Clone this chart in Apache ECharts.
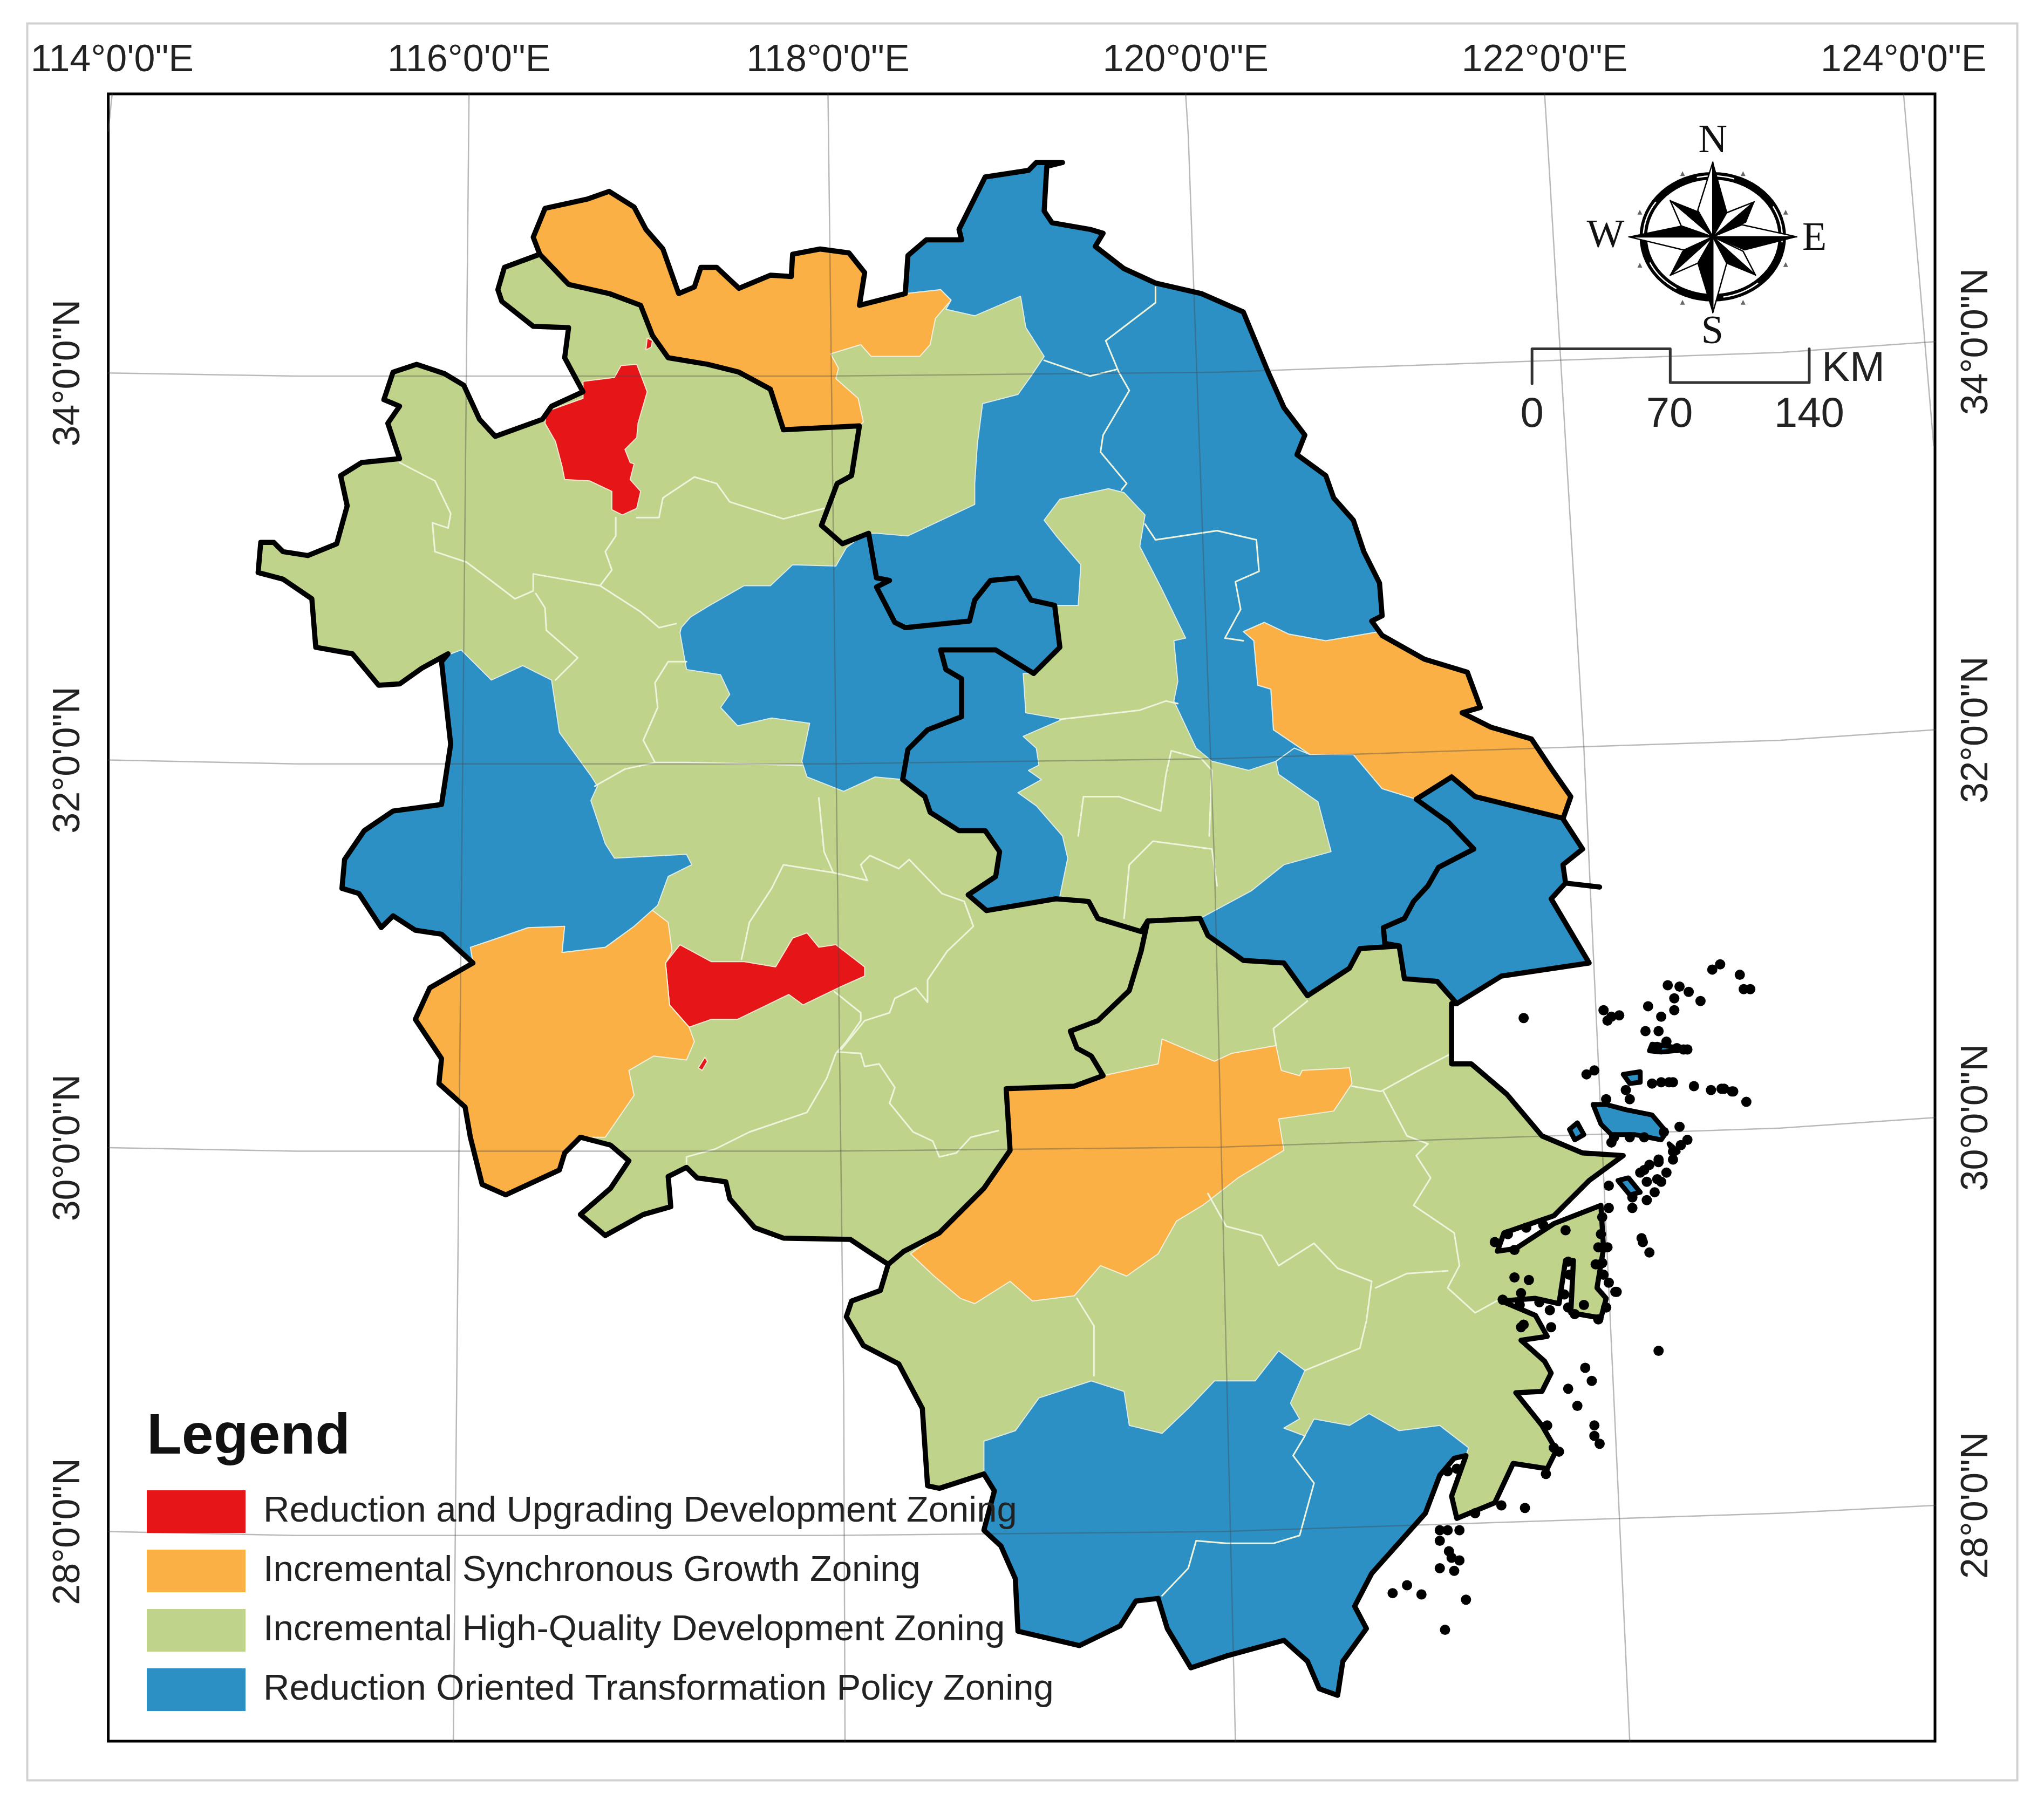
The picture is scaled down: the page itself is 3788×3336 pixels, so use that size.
<!DOCTYPE html>
<html>
<head>
<meta charset="utf-8">
<title>Zoning map</title>
<script src="https://cdn.jsdelivr.net/npm/echarts@6/dist/echarts.min.js"></script>
<style>
html,body{margin:0;padding:0;background:#fff;}
#main{width:3788px;height:3336px;}
</style>
</head>
<body>
<div id="main"></div>
<script>
var lonLabels=['114°0\'0"E','116°0\'0"E','118°0\'0"E','120°0\'0"E','122°0\'0"E','124°0\'0"E'];
var lonTicks=[85.6,358,632,905,1179,1453];
var latLabels=['34°0\'0"N','32°0\'0"N','30°0\'0"N','28°0\'0"N'];
var latTicksLeft=[284.6,580,876,1169];
var latTicksRight=[260.7,557,853,1149];

var zoneNames=['Reduction and Upgrading Development Zoning','Incremental Synchronous Growth Zoning','Incremental High-Quality Development Zoning','Reduction Oriented Transformation Policy Zoning'];

var outerRing=[[811,124],[799,127],[797,161],[803,170],[832,175],[842,178],[836,188],[858,205],[882,216],[917,224],[949,238],[968,284],[980,311],[996,332],[990,347],[1012,363],[1018,380],[1033,397],[1041,421],[1053,445],[1055,470],[1047,474],[1055,485],[1087,503],[1120,513],[1130,540],[1116,544],[1138,555],[1169,564],[1185,588],[1199,608],[1193,625],[1208,648],[1193,660],[1195,674],[1184,686],[1213,735],[1146,745],[1112,766],[1108,766],[1108,812],[1123,812],[1150,835],[1177,867],[1208,880],[1239,882],[1213,901],[1186,928],[1148,941],[1143,955],[1157,953],[1186,934],[1222,920],[1224,953],[1219,983],[1226,991],[1222,1006],[1199,1002],[1201,962],[1195,962],[1190,995],[1172,991],[1146,993],[1172,1004],[1181,1020],[1161,1023],[1179,1039],[1184,1048],[1177,1062],[1157,1063],[1177,1088],[1188,1107],[1181,1121],[1155,1117],[1141,1147],[1112,1159],[1108,1142],[1119,1111],[1110,1113],[1099,1126],[1088,1155],[1047,1201],[1034,1226],[1043,1243],[1025,1268],[1021,1294],[1007,1289],[998,1268],[980,1252],[936,1264],[909,1273],[891,1243],[884,1220],[867,1222],[855,1241],[824,1256],[777,1245],[775,1205],[764,1180],[751,1168],[759,1138],[751,1125],[717,1136],[708,1134],[704,1075],[686,1041],[659,1027],[646,1005],[650,993],[672,985],[678,965],[664,956],[649,946],[598,945],[576,937],[557,915],[554,902],[532,899],[524,891],[510,898],[512,921],[491,927],[462,943],[443,927],[466,907],[480,886],[466,874],[443,868],[431,880],[427,893],[386,912],[368,904],[359,868],[355,845],[335,827],[337,808],[317,778],[328,754],[361,735],[337,713],[317,710],[300,699],[291,708],[274,682],[261,678],[263,656],[278,634],[300,619],[337,614],[344,568],[337,505],[342,499],[322,510],[305,522],[289,523],[269,499],[241,494],[238,457],[216,442],[197,437],[199,414],[209,414],[216,421],[235,424],[257,415],[265,386],[260,363],[276,353],[305,350],[296,323],[305,310],[293,305],[300,284],[318,278],[339,285],[354,294],[366,320],[378,333],[414,320],[421,310],[445,299],[431,273],[434,250],[407,249],[383,230],[380,221],[385,204],[412,194],[407,181],[416,159],[448,152],[465,146],[484,158],[493,175],[506,190],[518,224],[530,219],[535,204],[547,204],[564,220],[588,210],[604,211],[605,194],[626,190],[648,193],[660,208],[656,233],[691,224],[693,195],[707,183],[734,183],[732,175],[752,135],[785,130],[791,124]];

var redRings=[
[[445,291],[469,288],[474,279],[486,278],[491,291],[494,299],[487,323],[486,334],[477,343],[481,353],[484,354],[481,366],[489,375],[486,388],[475,393],[467,389],[467,375],[450,367],[431,366],[429,356],[424,337],[416,323],[417,314],[445,304]],
[[519,721],[543,734],[568,734],[592,738],[605,716],[616,712],[625,723],[638,721],[660,738],[660,745],[642,753],[613,767],[602,759],[563,778],[543,778],[526,784],[511,767],[508,735]],
[[481,783],[487,784],[486,787],[482,786]],
[[538,807],[540,810],[536,817],[533,815]],
[[494,258],[498,260],[497,265],[493,267]]
];

var orangeRings=[
[[412,194],[407,181],[416,159],[448,152],[465,146],[484,158],[493,175],[506,190],[518,224],[530,219],[535,204],[547,204],[564,220],[588,210],[604,211],[605,194],[626,190],[648,193],[660,208],[656,233],[691,224],[718,221],[726,229],[714,243],[710,263],[702,272],[665,272],[657,263],[634,270],[640,281],[638,289],[655,304],[659,322],[656,325],[598,328],[588,297],[564,284],[540,278],[510,273],[498,256],[489,233],[465,224],[434,217]],
[[359,723],[374,718],[403,708],[431,707],[429,727],[462,723],[484,707],[497,694],[510,704],[513,726],[508,735],[511,767],[526,784],[530,795],[524,809],[499,806],[480,817],[484,836],[462,868],[443,868],[431,880],[427,893],[386,912],[368,904],[359,868],[355,845],[335,827],[337,808],[317,778],[328,754],[361,735]],
[[695,957],[717,941],[751,907],[771,878],[768,831],[820,829],[842,821],[884,812],[887,793],[927,810],[940,804],[974,798],[978,817],[992,821],[994,817],[1030,815],[1032,827],[1018,848],[976,854],[980,878],[945,899],[918,920],[898,932],[884,957],[860,974],[840,966],[820,989],[788,993],[771,978],[744,995],[733,991],[713,974]],
[[949,482],[965,475],[984,484],[1012,489],[1053,482],[1055,485],[1087,503],[1120,513],[1130,540],[1116,544],[1138,555],[1169,564],[1185,588],[1199,608],[1193,625],[1126,608],[1108,593],[1081,610],[1055,602],[1033,576],[1000,576],[972,557],[970,526],[960,523],[957,489]]
];

var blueRings=[
[[691,224],[693,195],[707,183],[734,183],[732,175],[752,135],[785,130],[791,124],[811,124],[799,127],[797,161],[803,170],[832,175],[842,178],[836,188],[858,205],[882,216],[917,224],[949,238],[968,284],[980,311],[996,332],[990,347],[1012,363],[1018,380],[1033,397],[1041,421],[1053,445],[1055,470],[1047,474],[1053,482],[1012,489],[984,484],[965,475],[949,482],[957,489],[960,523],[970,526],[972,557],[1000,576],[988,571],[974,581],[953,588],[925,581],[913,571],[896,535],[899,520],[896,489],[905,487],[886,448],[870,417],[874,393],[858,376],[846,373],[809,381],[797,397],[807,410],[825,431],[823,462],[805,462],[787,458],[777,441],[756,443],[744,458],[740,474],[691,479],[683,475],[669,448],[679,443],[669,441],[663,407],[669,407],[693,409],[744,385],[744,369],[746,339],[750,308],[777,301],[787,287],[797,272],[783,250],[779,226],[744,241],[722,236],[726,229],[718,221]],
[[974,581],[988,571],[1000,576],[1033,576],[1055,602],[1081,610],[1108,593],[1126,608],[1191,624],[1193,625],[1208,648],[1193,660],[1195,674],[1184,686],[1213,735],[1146,745],[1112,766],[1097,749],[1072,747],[1068,722],[1038,724],[1030,739],[998,760],[980,735],[949,733],[922,714],[916,701],[955,680],[980,660],[1016,650],[1006,612],[976,591]],
[[662,406],[669,441],[679,443],[669,448],[683,475],[691,479],[740,474],[744,458],[756,443],[777,441],[787,458],[805,462],[809,494],[799,504],[789,514],[760,496],[718,496],[722,511],[734,518],[734,547],[708,557],[693,572],[689,595],[668,593],[644,604],[616,593],[612,581],[618,552],[589,548],[563,554],[550,540],[557,530],[550,515],[524,511],[519,483],[520,479],[527,471],[540,463],[568,447],[588,447],[605,431],[638,432],[646,418]],
[[718,496],[760,496],[789,514],[781,514],[783,544],[811,549],[781,562],[791,571],[793,584],[785,588],[795,595],[777,605],[791,615],[811,638],[815,655],[809,684],[806,686],[753,695],[739,683],[760,669],[763,650],[752,634],[732,634],[710,620],[706,608],[689,595],[693,572],[708,557],[734,547],[734,518],[722,511]],
[[337,505],[344,499],[352,496],[375,519],[399,508],[421,519],[427,559],[451,592],[456,600],[451,611],[462,644],[469,655],[524,652],[528,660],[510,669],[502,691],[484,707],[462,723],[429,727],[431,707],[403,708],[374,718],[359,723],[361,735],[337,713],[317,710],[300,699],[291,708],[274,682],[261,678],[263,656],[278,634],[300,619],[337,614],[344,568]],
[[751,1125],[751,1100],[775,1092],[793,1067],[833,1054],[858,1062],[862,1088],[887,1094],[909,1073],[927,1054],[958,1054],[976,1031],[996,1046],[985,1071],[992,1083],[980,1090],[996,1096],[1003,1083],[1030,1088],[1045,1079],[1068,1092],[1099,1088],[1121,1105],[1119,1111],[1110,1113],[1099,1126],[1088,1155],[1047,1201],[1034,1226],[1043,1243],[1025,1268],[1021,1294],[1007,1289],[998,1268],[980,1252],[936,1264],[909,1273],[891,1243],[884,1220],[867,1222],[855,1241],[824,1256],[777,1245],[775,1205],[764,1180],[751,1168],[759,1138]]
];

var islandRings=[
[[1216,843],[1226,843],[1241,847],[1261,851],[1272,864],[1268,870],[1248,866],[1230,866],[1222,858]],
[[1239,820],[1252,818],[1252,826],[1244,827]],
[[1204,857],[1209,866],[1202,870],[1198,862]],
[[1235,901],[1243,899],[1252,910],[1244,912]],
[[1261,797],[1270,798],[1288,801],[1268,803],[1259,802]],
[[1274,873],[1281,879],[1278,881]]
];

var islandDots=[[1313,736],[1307,740],[1328,744],[1331,755],[1336,755],[1273,752],[1282,753],[1289,757],[1278,762],[1298,764],[1258,768],[1278,771],[1268,776],[1256,787],[1266,787],[1163,777],[1224,771],[1230,776],[1236,775],[1227,779],[1288,801],[1280,800],[1211,820],[1217,817],[1293,829],[1306,832],[1316,831],[1323,833],[1333,841],[1261,827],[1274,826],[1241,832],[1226,839],[1282,860],[1288,870],[1277,879],[1266,885],[1272,895],[1268,902],[1255,893],[1263,910],[1257,916],[1246,922],[1228,922],[1254,948],[1259,956],[1253,945],[1233,986],[1266,1031],[1210,1044],[1215,1054],[1197,1060],[1204,1073],[1217,1088],[1217,1096],[1221,1102],[1164,1151],[1146,1149],[1099,1168],[1106,1184],[1114,1191],[1099,1197],[1110,1199],[1063,1216],[1074,1210],[1085,1217],[1119,1221],[1103,1244],[1190,1108],[1180,1125],
[1223,929],[1222,942],[1220,952],[1227,952],[1218,965],[1223,964],[1224,973],[1228,979],[1234,986],[1197,963],[1198,973],[1194,988],[1156,975],[1167,977],[1161,987],[1147,992],[1160,996],[1175,994],[1183,1000],[1163,1011],[1161,1013],[1184,1013],[1197,998],[1202,1003],[1209,996],[1220,1007],[1226,998],[1141,948],[1151,942],[1156,954],[1165,937],[1178,935],[1195,939],
[1232,868],[1244,868],[1255,868],[1270,864],[1230,872],[1252,895],[1259,889],[1266,887],[1277,885],[1283,874],[1257,902],[1265,900],[1228,905],[1246,914],[1244,839],[1268,826],[1277,826],[1314,831],[1322,833],[1265,799],[1272,795],[1285,801],
[1181,1088],[1186,1105],[1126,1155],[1105,1168],[1099,1176],[1108,1189],[1114,1168],[1112,1121],[1105,1123]];

// thick province lines inside the outline
var provinceLines=[
[[412,194],[434,217],[465,224],[489,233],[498,256],[510,273],[540,278],[564,284],[588,297],[598,328],[656,325],[650,363],[639,369],[627,401],[643,415],[663,407],[669,441],[679,443],[669,448],[683,475],[691,479],[740,474],[744,458],[756,443],[777,441],[787,458],[805,462],[809,494],[799,504],[789,514],[760,496],[718,496],[722,511],[734,518],[734,547],[708,557],[693,572],[689,595],[706,608],[710,620],[732,634],[752,634],[763,650],[760,669],[739,683],[753,695],[806,686],[831,688],[838,701],[871,711],[876,703],[916,701],[922,714],[949,733],[980,735],[998,760],[1030,739],[1038,724],[1068,722],[1072,747],[1097,749],[1112,766]],
[[876,703],[871,726],[862,756],[838,779],[817,787],[822,800],[833,806],[842,821],[820,829],[768,831],[771,878],[751,907],[717,941],[690,955],[678,965]],
[[1191,624],[1126,608],[1108,593],[1081,610],[1106,628],[1125,648],[1098,662],[1090,676],[1079,688],[1072,701],[1056,708],[1057,720],[1068,722]],
[[1195,674],[1221,677]]
];

// thin city lines
var cityLines=[
[[996,1096],[987,1111],[1003,1132],[992,1172],[972,1178],[936,1178],[913,1176],[907,1197],[887,1218]],
[[1032,829],[1054,833],[1083,817],[1108,804]],
[[1056,833],[1074,867],[1090,873],[1081,882],[1092,899],[1079,920],[1110,941],[1114,966],[1105,983],[1126,1002],[1146,991]],
[[998,764],[972,785],[974,798]],
[[922,911],[936,936],[963,943],[976,966],[1003,949],[1021,968],[1047,978],[1043,1008],[1038,1029],[996,1046]],
[[1050,983],[1074,972],[1105,970]],
[[822,991],[835,1012],[835,1050]],
[[625,609],[629,650],[636,666],[662,672],[657,660],[664,653],[686,663],[694,656],[719,682],[736,688],[743,707],[723,726],[708,748],[708,765],[699,754],[683,762],[679,773],[660,779],[642,801]],
[[636,666],[598,660],[589,678],[572,704],[568,723],[566,732]],
[[637,757],[657,773],[657,779],[646,795],[638,804],[631,823],[616,849],[572,864],[546,877],[524,883],[524,890]],
[[640,803],[657,804],[660,814],[671,812],[683,830],[679,842],[697,864],[712,871],[717,883],[730,880],[741,868],[762,863]],
[[500,582],[491,565],[502,540],[500,521],[510,505],[524,505]],
[[454,600],[477,587],[500,582],[524,582],[612,584]],
[[305,353],[332,367],[344,392],[342,403],[330,399],[332,421],[356,429],[376,444],[393,457],[407,451],[407,438],[458,447],[489,467],[503,479],[516,476]],
[[409,453],[416,464],[417,481],[441,502],[424,519]],
[[470,395],[470,409],[462,421],[467,435],[458,447]],
[[486,395],[503,395],[506,380],[530,364],[547,369],[557,383],[598,396],[629,388]],
[[882,219],[882,231],[844,260],[854,284],[862,298],[842,332],[840,345],[860,369],[856,374]],
[[797,275],[832,287],[852,282]],
[[874,400],[882,412],[929,405],[959,412],[961,436],[943,444],[947,465],[935,487],[949,489]],
[[809,549],[870,542],[890,535],[899,537]],
[[823,638],[827,608],[854,608],[886,619],[890,591],[894,573],[917,579],[925,588],[923,638]],
[[858,701],[862,660],[880,642],[925,648],[929,676]]
];

// graticule read along the frame and across the map
var meridians=[
[[85.6,71.6],[82.6,100]],
[[358,71.6],[346,1329]],
[[632,71.6],[644,1062],[645,1329]],
[[905,71.6],[907,103],[927,659],[943,1329]],
[[1179,71.6],[1181,103],[1209,571],[1213,659],[1244,1329]],
[[1453,71.6],[1476,340]]
];
var parallels=[
[[82.6,284.6],[226,287],[631,287],[931,284],[1359,269],[1477,260.7]],
[[82.6,580],[226,583],[631,583],[931,579],[1359,565],[1477,557]],
[[82.6,876],[226,878.6],[631,878.6],[931,875.5],[1359,861],[1477,853]],
[[82.6,1169],[226,1172],[631,1172],[931,1169],[1359,1155],[1477,1149]]
];

// compass
var compassCenter=[1307.4,180.7];
var compassTips=[[1339,154],[1340,210],[1274.9,210],[1274.9,153],[1307.4,123.7],[1371.5,180.7],[1307.4,238.6],[1243.3,180.7]];
var compassCw=[[1332.6,169.6],[1318,200.9],[1284.3,191.7],[1295.9,161.4],[1318,161.4],[1331.6,190.8],[1295.9,200.9],[1283.3,172.4]];
var compassCcw=[[1318,162.3],[1330.5,191.7],[1295.9,200.9],[1283.3,172.4],[1295.9,160.4],[1329.5,171.5],[1318,200.9],[1285.4,190.8]];
var compassMarks=[[1284.3,132.5],[1330.5,132.5],[1251.7,161.9],[1363,161.9],[1251.7,202.4],[1363,201.8],[1284.3,230.7],[1330.5,230.7]];
var compassLetters=['N','E','S','W'];
var compassLetterPos=[[1307.4,108],[1385,182.5],[1307,254],[1225.5,180.7]];

// scale bar
var scaleLine=[[1169.4,292.8],[1169.4,266.2],[1274.9,266.2],[1274.9,291.9],[1381,291.9],[1381,266.2]];
var scaleLabels=['0','70','140','KM'];
var scaleLabelPos=[[1169.4,316.8],[1274.4,316.8],[1381,316.8],[1414.6,281.8]];

var colors=['#E61618','#FAB045','#BFD38A','#2C90C5'];
var sansFont='"Liberation Sans", Arial, sans-serif';
var serifFont='"Liberation Serif", serif';

function polySeries(name,rings,color,z,stroke,strokeWidth){
	return {
		name:name,
		type:'custom',
		coordinateSystem:'cartesian2d',
		z:z,
		silent:true,
		itemStyle:{color:color},
		data:rings.map(function(r){return r[0];}),
		renderItem:function(params,api){
			var pts=rings[params.dataIndex].map(function(p){return api.coord(p);});
			return {type:'polygon',shape:{points:pts},style:{fill:color,stroke:stroke,lineWidth:strokeWidth,lineJoin:'round'}};
		}
	};
}

function lineSeries(lines,color,width,z,dash){
	return {
		type:'custom',
		coordinateSystem:'cartesian2d',
		z:z,
		silent:true,
		data:lines.map(function(r){return r[0];}),
		renderItem:function(params,api){
			var pts=lines[params.dataIndex].map(function(p){return api.coord(p);});
			return {type:'polyline',shape:{points:pts},style:{fill:null,stroke:color,lineWidth:width,lineJoin:'round',lineCap:'round',lineDash:dash||null}};
		}
	};
}

function textSeries(labels,pos,font,size,color,z){
	return {
		type:'custom',
		coordinateSystem:'cartesian2d',
		z:z,
		silent:true,
		data:pos,
		renderItem:function(params,api){
			var c=api.coord(pos[params.dataIndex]);
			return {type:'text',x:c[0],y:c[1],style:{text:labels[params.dataIndex],fontFamily:font,fontSize:size,fill:color,align:'center',verticalAlign:'middle'}};
		}
	};
}

var series=[
	polySeries(zoneNames[2],[outerRing],colors[2],2,'#e8efd4',2),
	polySeries(zoneNames[0],redRings,colors[0],3,'#f4e6d0',2),
	polySeries(zoneNames[1],orangeRings,colors[1],3,'#f5f0dc',2),
	polySeries(zoneNames[3],blueRings,colors[3],3,'#dcebe8',2),
	lineSeries(cityLines,'#eef4dc',3,4),
	lineSeries(meridians,'rgba(70,70,70,0.38)',2.5,5),
	lineSeries(parallels,'rgba(70,70,70,0.38)',2.5,5),
	lineSeries(provinceLines,'#000',9.5,6),
	lineSeries([outerRing.concat([outerRing[0]])],'#000',9.5,6),
	polySeries('islands',islandRings,colors[3],7,'#000',9),
	{
		type:'scatter',
		z:7,
		silent:true,
		symbol:'circle',
		symbolSize:19,
		itemStyle:{color:'#000',opacity:1},
		data:islandDots
	},
	lineSeries([scaleLine],'#333',5,8),
	textSeries(scaleLabels,scaleLabelPos,sansFont,78,'#222',9),
	textSeries(compassLetters,compassLetterPos,serifFont,74,'#111',9),
	{
		type:'scatter',
		z:8,
		silent:true,
		symbol:'triangle',
		symbolSize:9,
		itemStyle:{color:'#666',opacity:1},
		data:compassMarks
	},
	{
		// compass ring and star
		type:'custom',
		coordinateSystem:'cartesian2d',
		z:8,
		silent:true,
		data:[compassCenter],
		renderItem:function(params,api){
			var c=api.coord(compassCenter);
			var sx=api.size([1,0])[0], sy=api.size([0,1])[1];
			var kids=[
				{type:'ellipse',shape:{cx:c[0],cy:c[1],rx:53*sx,ry:46.5*sy},style:{fill:'#fff',stroke:'#000',lineWidth:14}},
				{type:'ellipse',shape:{cx:c[0],cy:c[1],rx:53*sx,ry:46.5*sy},style:{fill:null,stroke:'#fff',lineWidth:2.5,lineDash:[70,90]}}
			];
			for(var i=0;i<compassTips.length;i++){
				var t=api.coord(compassTips[i]);
				kids.push({type:'polygon',shape:{points:[c,t,api.coord(compassCcw[i])]},style:{fill:'#fff',stroke:'#000',lineWidth:2.5,lineJoin:'round'}});
				kids.push({type:'polygon',shape:{points:[c,t,api.coord(compassCw[i])]},style:{fill:'#000',stroke:'#000',lineWidth:1.5,lineJoin:'round'}});
			}
			return {type:'group',children:kids};
		}
	}
];

var chart=echarts.init(document.getElementById('main'));
chart.setOption({
	animation:false,
	backgroundColor:'#fff',
	grid:{left:200.6,right:202,top:174,bottom:109,show:true,borderColor:'#000',borderWidth:5,backgroundColor:'transparent',containLabel:false},
	graphic:[{type:'rect',left:48,top:41,shape:{width:3688,height:3256},style:{fill:null,stroke:'#d2d2d2',lineWidth:4},silent:true}],
	title:{text:'Legend',left:272,top:2612,padding:0,z:20,textStyle:{fontFamily:sansFont,fontWeight:'bold',fontSize:106,color:'#111'}},
	legend:{
		left:272,top:2762,orient:'vertical',padding:0,z:20,
		itemWidth:183,itemHeight:79,itemGap:31,icon:'rect',selectedMode:false,
		data:[zoneNames[0],zoneNames[1],zoneNames[2],zoneNames[3]],
		itemStyle:{borderWidth:0},
		textStyle:{fontFamily:sansFont,fontSize:67,color:'#222',padding:[0,0,0,28]}
	},
	tooltip:{show:false},
	xAxis:{
		type:'value',position:'top',min:82.6,max:1477,
		axisLine:{show:false},axisTick:{show:false},splitLine:{show:false},
		axisLabel:{customValues:lonTicks,margin:26,fontFamily:sansFont,fontSize:70,color:'#222',hideOverlap:false,
			formatter:function(v){return lonLabels[lonTicks.indexOf(v)];}}
	},
	yAxis:[{
		type:'value',position:'left',inverse:true,min:71.6,max:1329,
		axisLine:{show:false},axisTick:{show:false},splitLine:{show:false},
		axisLabel:{customValues:latTicksLeft,rotate:90,margin:38,fontFamily:sansFont,fontSize:70,color:'#222',hideOverlap:false,
			formatter:function(v){return latLabels[latTicksLeft.indexOf(v)];}}
	},{
		type:'value',position:'right',inverse:true,min:71.6,max:1329,
		axisLine:{show:false},axisTick:{show:false},splitLine:{show:false},
		axisLabel:{customValues:latTicksRight,rotate:90,margin:43,fontFamily:sansFont,fontSize:70,color:'#222',hideOverlap:false,
			formatter:function(v){return latLabels[latTicksRight.indexOf(v)];}}
	}],
	series:series
});
</script>
</body>
</html>
